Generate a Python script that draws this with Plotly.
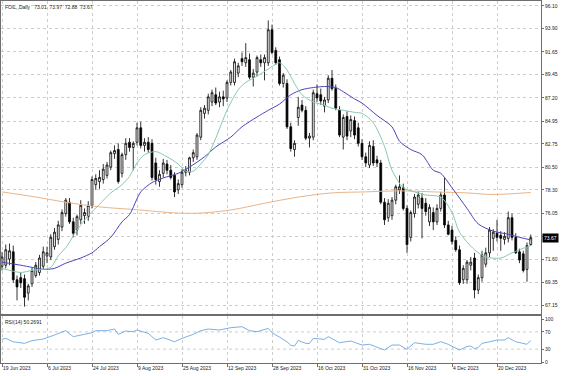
import plotly.graph_objects as go

# ---------------- data ----------------
opens = [70.9, 71.0, 71.6, 72.3, 69.6, 69.8, 69.7, 68.3, 69.2, 70.0, 70.3, 70.9, 71.9, 71.8, 72.8, 73.5, 74.7, 76.0, 77.1, 75.2,
         74.4, 75.4, 75.8, 75.7, 76.8, 78.8, 79.1, 79.3, 79.7, 80.5, 81.8, 82.2, 79.9, 81.7, 82.9, 82.4, 82.9, 84.3, 82.6, 82.9,
         82.8, 80.9, 79.1, 79.9, 80.8, 80.2, 79.7, 78.3, 78.8, 80.0, 80.0, 81.4, 81.5, 83.4, 85.7, 86.0, 86.8, 87.5, 86.8, 87.3,
         87.2, 88.7, 88.7, 89.6, 91.0, 90.6, 90.9, 89.2, 89.7, 90.9, 90.6, 90.6, 93.8, 91.8, 90.9, 88.6, 88.6, 84.4, 82.2, 85.3,
         86.5, 86.0, 83.3, 83.4, 87.6, 87.5, 86.4, 87.0, 89.1, 88.1, 86.0, 83.4, 85.4, 84.0, 85.0, 84.3, 82.8, 81.5, 80.7, 82.5,
         81.2, 80.9, 77.1, 75.6, 75.8, 77.3, 78.3, 78.5, 76.5, 73.7, 76.0, 76.9, 77.5, 77.0, 75.2, 76.1, 75.2, 76.5, 77.8, 74.9,
         74.4, 73.4, 72.5, 69.6, 69.6, 71.0, 71.7, 68.6, 69.8, 71.1, 72.2, 73.6, 74.1, 73.9, 73.5, 73.6, 75.6, 73.7, 72.3, 72.1,
         70.6, 73.01]
highs = [72.3, 73.0, 73.1, 72.9, 70.0, 70.3, 70.1, 69.2, 70.8, 71.3, 72.0, 72.8, 72.8, 74.0, 74.6, 75.3, 76.4, 77.5, 77.5, 75.6,
         75.9, 77.3, 76.5, 77.2, 79.6, 79.8, 80.2, 80.8, 81.0, 82.1, 82.6, 82.8, 81.9, 83.3, 83.3, 83.0, 84.8, 84.9, 83.3, 83.4,
         83.2, 81.4, 80.2, 81.3, 81.2, 80.7, 80.0, 79.3, 80.3, 80.6, 81.5, 82.2, 83.8, 86.3, 86.5, 87.6, 88.0, 88.2, 87.8, 87.9,
         88.9, 89.9, 91.0, 90.6, 91.6, 92.5, 91.5, 90.0, 91.3, 91.4, 91.4, 94.7, 94.3, 92.1, 91.2, 89.6, 89.0, 84.8, 83.1, 87.3,
         87.0, 86.4, 83.8, 88.0, 88.5, 88.1, 87.3, 89.4, 89.9, 88.5, 86.4, 85.6, 85.9, 85.5, 85.4, 84.8, 83.2, 81.9, 83.0, 83.1,
         81.6, 81.2, 77.5, 77.4, 77.6, 78.8, 79.7, 78.9, 76.8, 76.3, 77.9, 78.2, 78.0, 77.5, 76.9, 76.6, 76.9, 78.1, 79.5, 75.3,
         74.8, 73.8, 72.9, 71.0, 71.5, 71.8, 72.2, 70.1, 72.4, 72.7, 74.7, 74.5, 75.4, 74.3, 74.2, 76.2, 76.0, 74.1, 72.6, 72.4,
         73.2, 73.97]
lows = [70.5, 70.7, 71.0, 69.3, 67.6, 68.8, 67.0, 67.6, 68.9, 69.8, 70.0, 70.6, 71.2, 71.5, 72.5, 73.0, 74.3, 75.7, 75.0, 73.7,
        73.9, 75.0, 75.0, 75.3, 76.5, 78.3, 78.4, 78.9, 79.4, 80.2, 81.3, 78.9, 79.5, 81.2, 82.0, 80.2, 82.6, 82.3, 82.0, 81.9,
        79.2, 78.8, 78.6, 79.5, 79.8, 79.3, 77.6, 77.9, 78.5, 79.6, 79.7, 81.0, 81.2, 83.1, 85.2, 85.6, 86.4, 86.5, 86.3, 86.4,
        86.8, 88.4, 88.4, 89.2, 90.3, 90.2, 89.0, 88.3, 89.3, 90.2, 88.9, 90.3, 91.4, 90.4, 88.4, 88.2, 84.2, 82.0, 81.5, 84.5,
        85.8, 83.1, 82.4, 83.1, 86.8, 86.5, 85.8, 86.7, 87.9, 86.0, 83.4, 82.2, 83.1, 83.4, 83.2, 82.5, 81.2, 80.5, 80.4, 80.6,
        80.5, 76.9, 74.9, 75.2, 75.4, 76.9, 77.9, 76.3, 72.2, 73.3, 75.6, 76.5, 73.6, 75.8, 74.8, 74.4, 74.9, 76.2, 74.6, 73.9,
        73.0, 72.3, 69.1, 69.2, 69.2, 70.5, 67.8, 68.2, 69.4, 70.8, 71.8, 72.4, 73.3, 72.4, 73.0, 73.2, 73.4, 72.1, 71.2, 70.3,
        69.4, 72.88]
closes = [71.8, 72.5, 72.4, 69.6, 68.9, 69.3, 67.9, 69.0, 70.5, 71.0, 71.7, 72.3, 72.2, 73.7, 74.2, 74.9, 76.1, 77.3, 75.2, 74.1,
          75.7, 76.8, 76.1, 76.8, 79.3, 79.4, 79.5, 80.3, 80.7, 81.9, 82.1, 79.1, 81.7, 82.8, 82.4, 82.8, 84.3, 82.6, 82.9, 82.2,
          79.5, 79.3, 79.8, 80.9, 80.2, 79.5, 78.1, 78.9, 80.0, 80.2, 81.4, 81.9, 83.6, 86.0, 86.2, 87.3, 87.7, 86.7, 87.3, 87.1,
          88.7, 89.7, 90.7, 90.3, 90.7, 91.1, 89.2, 89.6, 91.1, 90.6, 91.1, 93.8, 91.6, 90.6, 88.6, 89.4, 84.4, 82.3, 82.8, 86.3,
          86.0, 83.3, 83.5, 87.7, 87.2, 86.9, 87.0, 89.1, 88.1, 86.2, 83.6, 85.3, 83.5, 85.1, 83.6, 82.8, 81.5, 80.9, 82.6, 80.9,
          80.9, 77.1, 75.4, 77.0, 77.3, 78.6, 78.6, 76.5, 73.0, 76.1, 77.6, 77.8, 76.5, 76.2, 76.6, 75.2, 76.5, 77.8, 74.9, 74.0,
          73.3, 72.5, 69.3, 70.7, 71.3, 71.3, 68.6, 69.8, 72.0, 72.2, 74.4, 74.2, 73.7, 73.6, 73.8, 75.6, 73.7, 72.2, 71.5, 70.5,
          72.9, 73.67]
bars = list(range(len(closes)))

# moving averages (bar index, value)
ma_fast_bar = [0, 5, 8, 11, 13, 15, 17, 20, 23, 26, 29, 32, 34, 36, 38, 41, 44, 47, 49, 51, 53, 55, 57, 60, 63, 65, 68, 71,
               74, 76, 78, 80, 83, 86, 88, 91, 94, 96, 99, 102, 104, 107, 110, 113, 117, 120, 122, 126, 129, 133, 136, 138, 141]
ma_fast_val = [70.7, 70.3, 70.5, 70.6, 70.8, 71.9, 72.7, 74.4, 75.8, 76.9, 78.0, 78.8, 79.6, 80.9, 81.7, 82.0, 81.5, 80.8,
               80.1, 80.1, 80.8, 81.7, 83.3, 86.0, 88.0, 88.7, 89.3, 90.0, 90.6, 89.9, 88.6, 87.5, 86.8, 86.5, 86.2, 86.0,
               85.8, 85.7, 84.8, 82.5, 80.2, 78.5, 78.1, 77.8, 77.6, 76.1, 74.2, 72.5, 71.8, 71.7, 72.2, 72.5, 72.9]
ma_mid_bar = [0, 5, 8, 11, 14, 17, 21, 24, 26, 29, 32, 34, 37, 40, 43, 47, 50, 54, 57, 61, 64, 68, 71, 74, 77, 80, 83, 86,
              89, 91, 94, 96, 100, 104, 106, 109, 112, 115, 117, 120, 124, 127, 131, 135, 138, 141]
ma_mid_val = [71.3, 71.0, 70.8, 70.6, 70.7, 71.2, 71.7, 72.2, 72.8, 73.7, 75.2, 75.9, 78.1, 79.0, 79.45, 79.9, 80.5, 81.5,
              82.45, 83.4, 84.4, 85.35, 86.0, 86.6, 87.5, 88.0, 88.2, 88.3, 88.2, 87.8, 87.1, 86.7, 85.5, 84.4, 83.0, 82.2,
              81.7, 80.2, 79.9, 78.5, 76.5, 75.0, 74.3, 74.0, 73.7, 73.45]
ma_slow_bar = [0, 9, 17, 26, 35, 47, 53, 61, 70, 79, 88, 97, 106, 115, 124, 131, 141]
ma_slow_val = [78.1, 77.6, 77.1, 76.65, 76.4, 76.05, 76.05, 76.35, 77.0, 77.6, 78.0, 78.1, 78.2, 78.1, 78.0, 77.85, 78.05]

# RSI(14) (bar index, value)
rsi_bar = [0, 1, 3, 6, 8, 11, 14, 17, 19, 22, 24, 25, 28, 30, 31, 33, 35, 36, 39, 41, 43, 46, 48, 51, 53, 55, 58, 61, 64,
           66, 68, 71, 72, 74, 76, 77, 78, 79, 81, 82, 83, 86, 87, 90, 92, 93, 96, 98, 101, 102, 104, 106, 108, 110, 113,
           115, 117, 119, 122, 124, 125, 126, 127, 128, 130, 132, 134, 135, 137, 139, 140, 141]
rsi_val = [52.8, 55.0, 47.0, 43.4, 49.6, 53.5, 62.8, 72.9, 58.9, 65.1, 68.2, 72.9, 73.0, 76.7, 64.3, 72.1, 70.5, 74.4, 66.7,
           51.2, 56.6, 47.2, 55.0, 64.4, 72.9, 76.7, 74.4, 79.8, 82.2, 72.9, 70.5, 78.3, 68.0, 58.0, 47.0, 39.0, 37.0, 50.0,
           43.4, 43.0, 55.0, 52.8, 58.9, 44.9, 47.2, 48.8, 39.5, 41.2, 31.0, 28.0, 39.5, 39.5, 29.5, 44.9, 41.2, 41.2, 47.2,
           41.2, 27.9, 36.0, 37.2, 31.0, 34.0, 43.4, 47.2, 51.2, 51.2, 56.6, 47.2, 43.4, 41.2, 50.27]
rsi_levels = [70, 30]

date_bar = [0, 12, 24, 36, 48, 60, 72, 84, 96, 108, 120, 132]
date_lbl = ["19 Jun 2023", "6 Jul 2023", "24 Jul 2023", "9 Aug 2023", "25 Aug 2023", "12 Sep 2023",
            "28 Sep 2023", "16 Oct 2023", "31 Oct 2023", "16 Nov 2023", "4 Dec 2023", "20 Dec 2023"]
price_ticks = [96.10, 93.90, 91.65, 89.45, 87.20, 84.95, 82.75, 80.50, 78.30, 76.05, 73.83, 71.60, 69.35, 67.15]
price_lbls = ["96.10", "93.90", "91.65", "89.45", "87.20", "84.95", "82.75", "80.50", "78.30", "76.05", "", "71.60",
              "69.35", "67.15"]
rsi_ticks = [100, 70, 30, 0]
rsi_lbls = ["100", "70", "30", "0"]

symbol = "FOIL,,Daily"
last_o, last_h, last_l, last_c = opens[-1], highs[-1], lows[-1], closes[-1]
rsi_last = "50.2691"

# ---------------- figure ----------------
FONT = "Liberation Sans"
GRID = "#cdcdcd"
AXC = "#6e6e6e"
TXT = "#222222"

fig = go.Figure()
fig.add_trace(go.Candlestick(
    x=bars, open=opens, high=highs, low=lows, close=closes,
    xaxis="x", yaxis="y", whiskerwidth=0,
    increasing=dict(line=dict(color="black", width=0.8), fillcolor="white"),
    decreasing=dict(line=dict(color="black", width=0.8), fillcolor="black"),
    showlegend=False, hoverinfo="skip"))
fig.add_trace(go.Scatter(x=ma_slow_bar, y=ma_slow_val, mode="lines", xaxis="x", yaxis="y",
                         line=dict(color="#e9b58a", width=1, shape="spline", smoothing=1), hoverinfo="skip"))
fig.add_trace(go.Scatter(x=ma_mid_bar, y=ma_mid_val, mode="lines", xaxis="x", yaxis="y",
                         line=dict(color="#4a46b8", width=1, shape="spline", smoothing=0.8), hoverinfo="skip"))
fig.add_trace(go.Scatter(x=ma_fast_bar, y=ma_fast_val, mode="lines", xaxis="x", yaxis="y",
                         line=dict(color="#86c9aa", width=1, shape="spline", smoothing=0.8), hoverinfo="skip"))
fig.add_trace(go.Scatter(x=rsi_bar, y=rsi_val, mode="lines", xaxis="x2", yaxis="y2",
                         line=dict(color="#6ea6e0", width=0.9), hoverinfo="skip"))

xr = [-0.27, 143.73]
common_x = dict(range=xr, tickvals=date_bar, showgrid=True, gridcolor=GRID, griddash="dot", gridwidth=1,
                showline=True, mirror=True, linecolor=AXC, linewidth=1, zeroline=False, fixedrange=True)
fig.update_layout(
    width=564, height=376,
    margin=dict(l=1, r=23, t=1, b=13),
    paper_bgcolor="white", plot_bgcolor="white",
    showlegend=False,
    font=dict(family=FONT, size=5, color=TXT),
    xaxis=dict(domain=[0, 1], anchor="y", showticklabels=False, ticks="",
               rangeslider=dict(visible=False), **common_x),
    yaxis=dict(domain=[0.1354, 1], anchor="x", side="right", range=[66.28, 96.58],
               tickvals=price_ticks, ticktext=price_lbls, ticks="outside", ticklen=2, tickcolor=AXC,
               tickfont=dict(family=FONT, size=5, color=TXT),
               showgrid=True, gridcolor=GRID, griddash="dot", gridwidth=1,
               showline=True, mirror=True, linecolor=AXC, linewidth=1, zeroline=False),
    xaxis2=dict(domain=[0, 1], anchor="y2", ticktext=date_lbl, ticks="outside", ticklen=3, tickcolor=AXC,
                ticklabelposition="outside right", tickfont=dict(family=FONT, size=5, color=TXT),
                **common_x),
    yaxis2=dict(domain=[0, 0.1298], anchor="x2", side="right", range=[-2.3, 107],
                tickvals=rsi_ticks, ticktext=rsi_lbls, ticks="outside", ticklen=2, tickcolor=AXC,
                tickfont=dict(family=FONT, size=5, color=TXT), showgrid=False,
                showline=True, mirror=True, linecolor=AXC, linewidth=1, zeroline=False),
)

shapes = []
for lvl in rsi_levels:
    shapes.append(dict(type="line", xref="x2 domain", x0=0, x1=1, yref="y2", y0=lvl, y1=lvl,
                       line=dict(color=GRID, width=1, dash="dot"), layer="below"))
fig.update_layout(shapes=shapes)

NB = "\u00a0"
title_txt = (symbol + NB * 3 + f"{last_o:.2f}" + NB * 2 + f"{last_h:.2f}" + NB * 2 +
             f"{last_l:.2f}" + NB * 2 + f"{last_c:.2f}")
fig.add_annotation(text=title_txt, xref="paper", yref="paper", x=0, y=1, xanchor="left", yanchor="top",
                   xshift=2, yshift=-1, showarrow=False, font=dict(family=FONT, size=5, color=TXT))
fig.add_annotation(text=f"RSI(14) {rsi_last}", xref="x2 domain", yref="y2 domain", x=0, y=1,
                   xanchor="left", yanchor="top", xshift=2, yshift=-1, showarrow=False,
                   font=dict(family=FONT, size=5, color=TXT))
fig.add_annotation(text=f"{last_c:.2f}", xref="paper", yref="y", x=1, y=last_c, xanchor="left", yanchor="middle",
                   showarrow=False, bgcolor="black", borderpad=1, xshift=1,
                   font=dict(family=FONT, size=5, color="white"))

fig.write_html("out.html", config={"displayModeBar": False, "staticPlot": True},
               post_script="document.body.style.margin='0';document.body.style.overflow='hidden';")
